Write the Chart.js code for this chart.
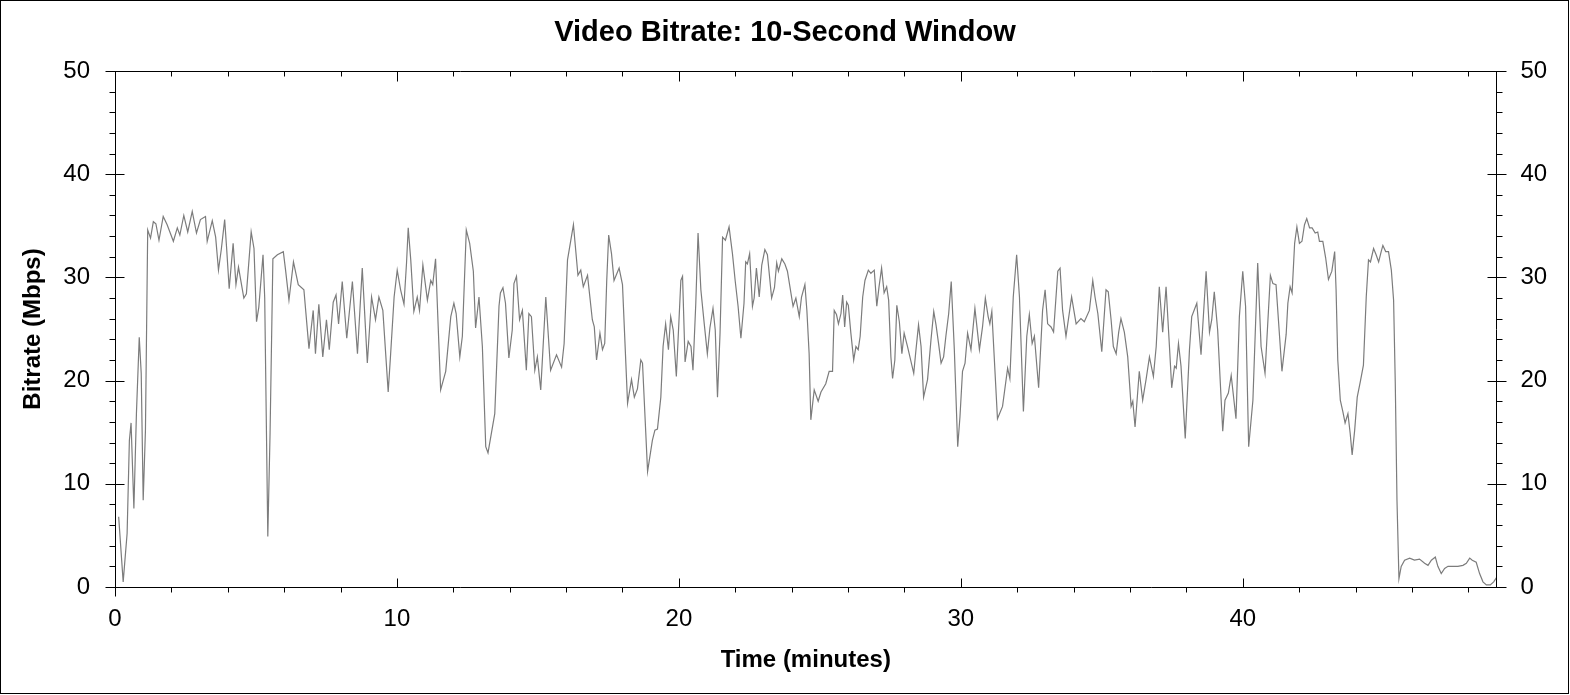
<!DOCTYPE html>
<html>
<head>
<meta charset="utf-8">
<title>Video Bitrate: 10-Second Window</title>
<script src="https://cdn.jsdelivr.net/npm/chart.js@4.4.1/dist/chart.umd.min.js"></script>
<style>
    html, body { margin: 0; padding: 0; background: #fff; }
    #wrap { width: 1570px; height: 695px; }
</style>
</head>
<body>
<div id="wrap"><canvas id="bitrateChart" width="1570" height="695"></canvas></div>
<script>
const chartTitle = 'Video Bitrate: 10-Second Window';
const xTitle = 'Time (minutes)';
const yTitle = 'Bitrate (Mbps)';

const xLabelTicks = [0, 10, 20, 30, 40];
const yLabelTicks = [0, 10, 20, 30, 40, 50];

// minutes
const times = [
    0.13, 0.29, 0.43, 0.51, 0.57, 0.67, 0.76, 0.86, 0.93, 1.0, 1.08, 1.16, 1.26, 1.36, 1.45, 1.56, 1.71, 1.85,
    2.07, 2.21, 2.3, 2.44, 2.58, 2.74, 2.89, 3.03, 3.21, 3.27, 3.45, 3.57, 3.67, 3.77, 3.89, 3.96,
    4.05, 4.19, 4.29, 4.38, 4.57, 4.66, 4.83, 4.93, 5.02, 5.1, 5.25, 5.31, 5.42, 5.5, 5.6, 5.76, 5.97,
    6.05, 6.17, 6.33, 6.5, 6.7, 6.88, 7.03, 7.11, 7.23, 7.37, 7.5, 7.6, 7.74, 7.84, 7.93, 8.06, 8.22,
    8.42, 8.6, 8.77, 8.95, 9.1, 9.24, 9.36, 9.5, 9.69, 9.77, 9.9, 10.01, 10.13, 10.25, 10.34, 10.4, 10.49,
    10.6, 10.72, 10.8, 10.92, 11.08, 11.2, 11.27, 11.37, 11.55, 11.73, 11.91, 12.02, 12.1, 12.23, 12.32,
    12.46, 12.58, 12.71, 12.79, 12.91, 13.03, 13.15, 13.23, 13.47, 13.62, 13.67, 13.76, 13.85, 13.97,
    14.09, 14.15, 14.24, 14.35, 14.45, 14.59, 14.68, 14.77, 14.89, 14.98, 15.1, 15.28, 15.45, 15.66,
    15.84, 15.93, 16.05, 16.26, 16.42, 16.52, 16.61, 16.76, 16.93, 17.0, 17.08, 17.2, 17.29, 17.37,
    17.44, 17.51, 17.61, 17.7, 17.88, 18.0, 18.18, 18.32, 18.42, 18.53, 18.65, 18.71, 18.89, 19.06,
    19.15, 19.24, 19.36, 19.44, 19.53, 19.63, 19.71, 19.8, 19.91, 20.07, 20.13, 20.22, 20.33, 20.43,
    20.5, 20.6, 20.68, 20.78, 20.9, 21.01, 21.1, 21.21, 21.29, 21.37, 21.46, 21.55, 21.65, 21.78, 21.9,
    22.0, 22.1, 22.2, 22.31, 22.37, 22.43, 22.51, 22.61, 22.67, 22.75, 22.85, 22.94, 23.05, 23.14,
    23.29, 23.39, 23.47, 23.53, 23.65, 23.76, 23.85, 24.05, 24.15, 24.27, 24.35, 24.47, 24.54, 24.62,
    24.68, 24.8, 24.94, 25.04, 25.21, 25.33, 25.45, 25.51, 25.59, 25.66, 25.75, 25.81, 25.88, 25.95,
    26.01, 26.1, 26.2, 26.28, 26.36, 26.43, 26.52, 26.6, 26.72, 26.81, 26.93, 27.02, 27.1, 27.19,
    27.28, 27.37, 27.44, 27.52, 27.58, 27.66, 27.73, 27.82, 27.91, 27.99, 28.11, 28.33, 28.41, 28.5,
    28.59, 28.68, 28.82, 28.94, 29.04, 29.12, 29.21, 29.3, 29.39, 29.47, 29.57, 29.66, 29.77, 29.89,
    29.97, 30.06, 30.15, 30.24, 30.36, 30.5, 30.66, 30.77, 30.87, 30.97, 31.03, 31.1, 31.3, 31.48,
    31.66, 31.74, 31.86, 31.98, 32.08, 32.22, 32.34, 32.43, 32.53, 32.61, 32.76, 32.9, 32.99, 33.08,
    33.2, 33.29, 33.44, 33.52, 33.61, 33.73, 33.93, 34.09, 34.26, 34.38, 34.56, 34.68, 34.76, 34.86,
    35.0, 35.15, 35.23, 35.33, 35.41, 35.51, 35.6, 35.68, 35.8, 35.92, 36.04, 36.1, 36.18, 36.33,
    36.45, 36.57, 36.69, 36.83, 36.93, 37.04, 37.16, 37.28, 37.4, 37.48, 37.58, 37.64, 37.72, 37.81,
    37.96, 38.11, 38.19, 38.37, 38.52, 38.7, 38.82, 38.9, 38.99, 39.11, 39.29, 39.37, 39.49, 39.59,
    39.76, 39.88, 40.0, 40.1, 40.21, 40.36, 40.53, 40.65, 40.79, 40.98, 41.07, 41.18, 41.39, 41.54,
    41.6, 41.68, 41.75, 41.84, 41.92, 42.01, 42.1, 42.19, 42.27, 42.37, 42.46, 42.57, 42.66, 42.72,
    42.84, 42.94, 43.04, 43.16, 43.26, 43.31, 43.37, 43.46, 43.55, 43.63, 43.73, 43.81, 43.88, 43.97,
    44.06, 44.17, 44.28, 44.38, 44.46, 44.53, 44.64, 44.73, 44.82, 44.91, 44.97, 45.07, 45.17, 45.27,
    45.35, 45.41, 45.47, 45.54, 45.62, 45.74, 45.92, 46.09, 46.27, 46.45, 46.57, 46.69, 46.83, 46.92,
    47.04, 47.16, 47.28, 47.45, 47.63, 47.81, 47.93, 48.05, 48.14, 48.28, 48.4, 48.52, 48.64, 48.78,
    48.9, 49.0
];

// Mbps
const rates = [
    6.8, 0.5, 5.2, 14.2, 15.9, 7.6, 16.8, 24.2, 20.7, 8.4, 15.2, 34.6, 33.8, 35.4, 35.2, 33.6, 35.9, 35.1,
    33.5, 34.8, 34.1, 36.0, 34.4, 36.4, 34.3, 35.6, 35.9, 33.5, 35.5, 33.9, 30.7, 32.7, 35.6, 32.8,
    28.9, 33.3, 29.3, 31.0, 28.0, 28.4, 34.4, 32.8, 25.7, 27.1, 32.2, 28.0, 4.9, 14.9, 31.8, 32.2, 32.5,
    30.7, 27.8, 31.5, 29.3, 28.8, 23.1, 26.8, 22.6, 27.4, 22.3, 25.9, 23.0, 27.6, 28.3, 25.5, 29.6, 24.1,
    29.6, 22.6, 30.9, 21.7, 28.1, 25.9, 28.1, 26.8, 18.9, 22.3, 28.1, 30.7, 28.8, 27.4, 31.4, 34.8, 31.7,
    26.7, 28.1, 26.8, 31.2, 27.8, 29.7, 29.3, 31.8, 19.1, 20.9, 26.2, 27.5, 26.5, 22.3, 24.3,
    34.6, 33.3, 30.6, 25.1, 28.1, 23.3, 13.6, 13.0, 16.8, 27.2, 28.5, 29.0, 27.5, 22.2,
    24.9, 29.4, 30.1, 25.9, 26.8, 21.0, 26.5, 26.2, 21.0, 22.3, 19.1, 28.1, 21.0, 22.5,
    21.3, 23.6, 31.7, 35.1, 30.2, 30.7, 29.1, 30.2, 25.9, 25.2, 22.0, 24.6, 23.0, 23.6,
    29.6, 34.1, 32.3, 29.7, 30.9, 29.3, 17.8, 20.1, 18.4, 19.2, 22.0, 21.7, 11.2, 14.2,
    15.2, 15.3, 18.4, 23.3, 25.5, 23.0, 26.2, 24.9, 20.4, 29.7, 30.1, 21.8, 23.8, 23.3,
    21.0, 27.5, 34.3, 28.8, 25.5, 22.6, 25.1, 27.0, 24.9, 18.4, 24.6, 33.9, 33.6, 34.9, 32.3,
    29.6, 27.2, 24.1, 27.5, 31.5, 31.3, 32.3, 27.2, 28.0, 30.9, 28.1, 31.2, 32.7, 32.2,
    28.0, 29.0, 31.4, 30.6, 31.8, 31.3, 30.6, 27.2, 28.0, 26.2, 28.1, 29.3, 26.8, 22.6,
    16.2, 19.1, 18.0, 18.9, 19.7, 20.9, 20.9, 26.8, 26.4, 25.5, 26.5, 28.3, 25.2, 27.6,
    27.3, 24.6, 22.0, 23.3, 23.0, 24.3, 28.1, 29.7, 30.7, 30.4, 30.7, 27.2, 29.1, 30.9,
    28.5, 29.1, 27.8, 22.3, 20.2, 22.0, 27.3, 25.7, 22.6, 24.6, 23.3, 20.7, 23.0, 25.4,
    23.3, 18.4, 20.1, 23.9, 26.7, 25.4, 23.6, 21.7, 22.3, 24.3, 26.5, 29.6, 23.0, 13.6,
    16.5, 20.9, 21.7, 24.6, 23.0, 27.0, 23.0, 25.2, 28.0, 26.2, 25.5, 26.7, 16.3, 17.5,
    21.2, 20.2, 28.1, 32.2, 28.1, 17.0, 24.3, 26.4, 23.6, 24.3, 19.3, 26.8, 28.8, 25.5,
    25.2, 24.7, 30.6, 30.9, 26.8, 24.3, 28.1, 25.5, 26.0, 25.7, 26.8, 29.7, 28.1, 26.5,
    22.8, 28.8, 28.6, 25.9, 23.3, 22.6, 24.7, 26.0, 24.7, 22.3, 17.5, 18.0, 15.5, 20.9,
    18.1, 20.1, 22.3, 20.4, 23.3, 29.1, 24.7, 29.1, 23.3, 19.3, 21.4, 21.2, 23.6, 21.4,
    14.4, 23.0, 26.2, 27.5, 22.5, 30.6, 24.7, 25.9, 28.6, 24.9, 15.1, 18.1, 18.8, 20.5,
    16.3, 26.2, 30.6, 27.2, 13.6, 18.1, 31.4, 23.3, 20.7, 30.2, 29.4, 29.3, 20.9, 24.5,
    27.5, 29.1, 28.5, 33.3, 34.9, 33.3, 33.5, 35.1, 35.7, 34.8, 34.8, 34.3, 34.4, 33.5,
    33.5, 31.9, 29.8, 30.6, 32.5, 28.8, 22.0, 18.1, 17.0, 15.9, 16.8, 14.9, 12.8, 15.2,
    18.4, 19.9, 21.5, 28.1, 31.7, 31.5, 32.8, 32.2, 31.5, 32.5, 33.1, 32.5, 32.5, 30.7,
    27.8, 19.7, 8.4, 0.8, 2.0, 2.6, 2.8, 2.6, 2.7, 2.3, 2.1, 2.6, 2.9, 2.0,
    1.3, 1.8, 2.0, 2.0, 2.0, 2.1, 2.3, 2.8, 2.6, 2.4, 1.3, 0.5, 0.2, 0.2,
    0.5, 0.9
];

const points = times.map((t, i) => {
    return { x: t, y: rates[i] };
});

const fontFamily = '"Liberation Sans", Arial, sans-serif';

// tick marks drawn along the frame, like the original graph
const frameTicks = {
    id: 'frameTicks',
    afterDraw(chart) {
        const ctx = chart.ctx;
        const a = chart.chartArea;
        const xs = chart.scales.x;
        const ys = chart.scales.y;
        const L = Math.round(a.left) + 0.5;
        const R = Math.round(a.right) - 0.5;
        const T = Math.round(a.top) + 0.5;
        const B = Math.round(a.bottom) + 0.5;

        const line = (x1, y1, x2, y2) => {
            ctx.moveTo(x1, y1);
            ctx.lineTo(x2, y2);
        };

        ctx.save();
        ctx.strokeStyle = '#000';
        ctx.lineWidth = 1;
        ctx.beginPath();
        line(L, T, R, T);
        line(L, B, R, B);
        line(L, T, L, B + 9);
        line(R, T, R, B);

        for (let v = 0; v <= 50; v += 2) {
            const py = Math.round(ys.getPixelForValue(v)) + 0.5;
            if (v % 10 === 0) {
                line(L - 10, py, L + 9, py);
                line(R - 9, py, R + 10, py);
            } else {
                line(L - 6, py, L, py);
                line(R, py, R + 6, py);
            }
        }
        for (let t = 0; t <= 48; t += 2) {
            const px = Math.round(xs.getPixelForValue(t)) + 0.5;
            if (t % 10 === 0) {
                line(px, T, px, T + 10);
                line(px, B - 9, px, B);
            } else {
                line(px, T, px, T + 5);
                line(px, B, px, B + 5);
            }
        }
        ctx.stroke();

        // outer frame of the picture
        ctx.strokeRect(0.5, 0.5, 1568, 693);
        ctx.restore();
    }
};

const ctx = document.getElementById('bitrateChart');
const bitrateChart = new Chart(ctx, { // eslint-disable-line
    type: 'line',
    data: {
        datasets: [{
            label: 'Bitrate',
            data: points,
            borderColor: '#7c7c7c',
            borderWidth: 1.2,
            pointRadius: 0,
            tension: 0,
            fill: false
        }]
    },
    options: {
        responsive: false,
        animation: false,
        devicePixelRatio: 1,
        layout: { padding: 0 },
        plugins: {
            legend: { display: false },
            tooltip: { enabled: false },
            title: {
                display: true,
                text: chartTitle,
                color: '#000',
                font: { family: fontFamily, size: 29, weight: 'bold', lineHeight: 1.2 },
                padding: { top: 16, bottom: 20.2 }
            }
        },
        scales: {
            x: {
                type: 'linear',
                position: 'bottom',
                min: 0,
                max: 49,
                afterBuildTicks: (scale) => {
                    scale.ticks = xLabelTicks.map((v) => ({ value: v }));
                },
                afterFit: (scale) => { scale.height = 108; },
                ticks: {
                    color: '#000',
                    font: { family: fontFamily, size: 24 },
                    padding: 18,
                    maxRotation: 0,
                    autoSkip: false
                },
                grid: { display: false, drawTicks: false },
                border: { display: false },
                title: {
                    display: true,
                    text: xTitle,
                    color: '#000',
                    font: { family: fontFamily, size: 24, weight: 'bold', lineHeight: 1.2 },
                    padding: { top: 0, bottom: 20 }
                }
            },
            y: {
                type: 'linear',
                position: 'left',
                min: 0,
                max: 50,
                afterBuildTicks: (scale) => {
                    scale.ticks = yLabelTicks.map((v) => ({ value: v }));
                },
                afterFit: (scale) => { scale.width = 115; },
                ticks: {
                    color: '#000',
                    font: { family: fontFamily, size: 24 },
                    padding: 25
                },
                grid: { display: false, drawTicks: false },
                border: { display: false },
                title: {
                    display: true,
                    text: yTitle,
                    color: '#000',
                    font: { family: fontFamily, size: 24, weight: 'bold', lineHeight: 1.2 },
                    padding: { top: 18.6, bottom: 0 }
                }
            },
            y2: {
                type: 'linear',
                position: 'right',
                min: 0,
                max: 50,
                afterBuildTicks: (scale) => {
                    scale.ticks = yLabelTicks.map((v) => ({ value: v }));
                },
                afterFit: (scale) => { scale.width = 73.5; },
                ticks: {
                    color: '#000',
                    font: { family: fontFamily, size: 24 },
                    padding: 24
                },
                grid: { display: false, drawTicks: false },
                border: { display: false }
            }
        }
    },
    plugins: [frameTicks]
});
</script>
</body>
</html>
